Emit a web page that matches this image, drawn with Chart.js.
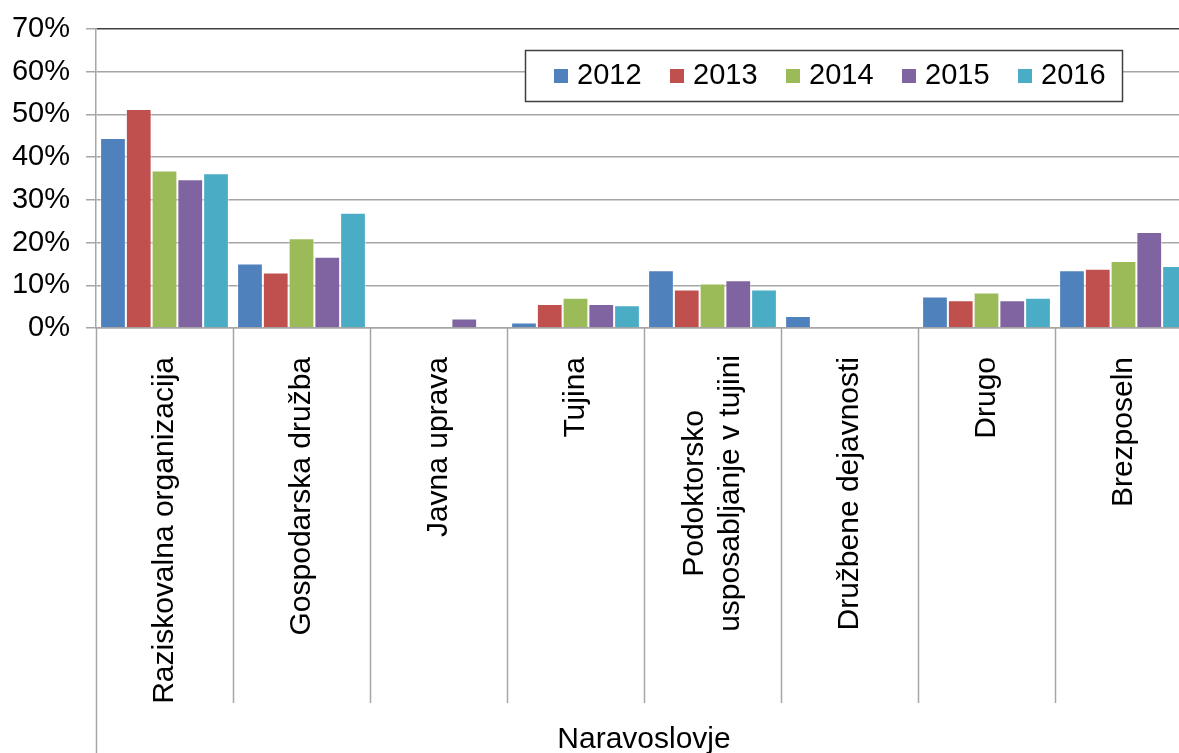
<!DOCTYPE html>
<html>
<head>
<meta charset="utf-8">
<script src="https://cdn.jsdelivr.net/npm/chart.js@4/dist/chart.umd.min.js"></script>
<style>
  html, body { margin: 0; padding: 0; background: #fff; overflow: hidden; }
  #wrap { width: 1198px; height: 753px; }
</style>
</head>
<body>
<div id="wrap"><canvas id="chart" width="1198" height="753"></canvas></div>
<script>
const categories = [
  'Raziskovalna organizacija',
  'Gospodarska družba',
  'Javna uprava',
  'Tujina',
  ['Podoktorsko', 'usposabljanje v tujini'],
  'Družbene dejavnosti',
  'Drugo',
  'Brezposeln'
];
const years = ['2012', '2013', '2014', '2015', '2016'];
const colors = ['#4F81BD', '#C0504D', '#9BBB59', '#8064A2', '#4BACC6'];

// delezi v %
const v2012 = [44.5, 15.1, 0, 1.3, 13.5, 2.8, 7.4, 13.5];
const v2013 = [51.3, 13.0, 0, 5.6, 9.0, 0, 6.5, 13.9];
const v2014 = [36.9, 21.0, 0, 7.1, 10.4, 0, 8.3, 15.7];
const v2015 = [34.8, 16.7, 2.2, 5.6, 11.2, 0, 6.5, 22.5];
const v2016 = [36.2, 27.0, 0, 5.3, 9.0, 0, 7.1, 14.5];
const series = [v2012, v2013, v2014, v2015, v2016];

const yTicks = [0, 10, 20, 30, 40, 50, 60, 70];
const groupLabel = 'Naravoslovje';

const font = 'Arial, "Liberation Sans", sans-serif';
const gray = '#a6a6a6';
const labelPad = 21;

// locila med kategorijami, podaljsek osi y, vecvrsticne oznake in legenda
const extras = {
  id: 'extras',
  afterDraw(chart) {
    const ctx = chart.ctx;
    const x = chart.scales.x;
    const a = chart.chartArea;
    ctx.save();
    ctx.strokeStyle = gray;
    ctx.lineWidth = 1.5;
    ctx.beginPath();
    for (let i = 0; i <= categories.length; i++) {
      const px = Math.round(x.getPixelForValue(i - 0.5)) + 0.5;
      ctx.moveTo(px, a.bottom);
      ctx.lineTo(px, i === 0 ? chart.height : a.bottom + 375);
    }
    ctx.stroke();

    // oznake v vec vrsticah: sredinsko poravnane
    ctx.font = '30px ' + font;
    ctx.fillStyle = '#000';
    ctx.textBaseline = 'middle';
    ctx.textAlign = 'center';
    categories.forEach((lab, i) => {
      if (!Array.isArray(lab)) return;
      const cx = x.getPixelForTick(i);
      const lh = 36;
      const wmax = Math.max(...lab.map(t => ctx.measureText(t).width));
      lab.forEach((t, j) => {
        const px = cx + (j - (lab.length - 1) / 2) * lh;
        ctx.save();
        ctx.translate(px, a.bottom + labelPad + 6 + wmax / 2);
        ctx.rotate(-Math.PI / 2);
        ctx.fillText(t, 0, 0);
        ctx.restore();
      });
    });

    // legenda
    const bx = 525.5, by = 50.5, bw = 597, bh = 51;
    ctx.fillStyle = '#fff';
    ctx.fillRect(bx, by, bw, bh);
    ctx.strokeStyle = '#404040';
    ctx.lineWidth = 1.5;
    ctx.strokeRect(bx, by, bw, bh);
    ctx.font = '29px ' + font;
    ctx.textAlign = 'left';
    chart.data.datasets.forEach((ds, i) => {
      const sx = 554 + i * 116;
      ctx.fillStyle = ds.backgroundColor;
      ctx.fillRect(sx, 69, 14, 14);
      ctx.fillStyle = '#000';
      ctx.fillText(ds.label, sx + 23, 76);
    });
    ctx.restore();
  }
};

new Chart(document.getElementById('chart'), {
  type: 'bar',
  data: {
    labels: categories,
    datasets: years.map((y, i) => ({
      label: y,
      data: series[i],
      backgroundColor: colors[i],
      borderColor: 'rgba(255,255,255,0.55)',
      borderWidth: c => (c.raw ? 1 : 0),
      categoryPercentage: 0.94,
      barPercentage: 1.0
    }))
  },
  options: {
    responsive: false,
    animation: false,
    layout: { padding: { top: 29, left: 12, right: 6, bottom: 0 } },
    plugins: {
      legend: { display: false },
      tooltip: { enabled: false }
    },
    scales: {
      x: {
        grid: { display: false },
        border: { display: true, color: gray, width: 1.5 },
        ticks: {
          autoSkip: false,
          minRotation: 90,
          maxRotation: 90,
          padding: labelPad,
          color: '#000',
          font: { family: font, size: 30, lineHeight: 1.2 },
          callback: (v, i) => (Array.isArray(categories[i]) ? '' : categories[i])
        },
        title: {
          display: true,
          text: groupLabel,
          color: '#000',
          font: { family: font, size: 30, lineHeight: 1 },
          padding: { top: 0, bottom: -2 }
        },
        afterFit(scale) { scale.height = 425; }
      },
      y: {
        min: 0,
        max: 70,
        afterBuildTicks(scale) { scale.ticks = yTicks.map(v => ({ value: v })); },
        afterFit(scale) {
          scale.width = 84;
          scale.paddingTop = 0;
          scale.paddingBottom = 0;
        },
        grid: {
          color: c => (c.tick && c.tick.value === 70 ? '#404040' : gray),
          tickColor: gray,
          lineWidth: 1.5,
          tickLength: 10
        },
        border: { color: gray, width: 1.5 },
        ticks: {
          padding: 16,
          color: '#000',
          font: { family: font, size: 29, lineHeight: 0.8 },
          callback: v => v + '%'
        }
      }
    }
  },
  plugins: [extras]
});
</script>
</body>
</html>
